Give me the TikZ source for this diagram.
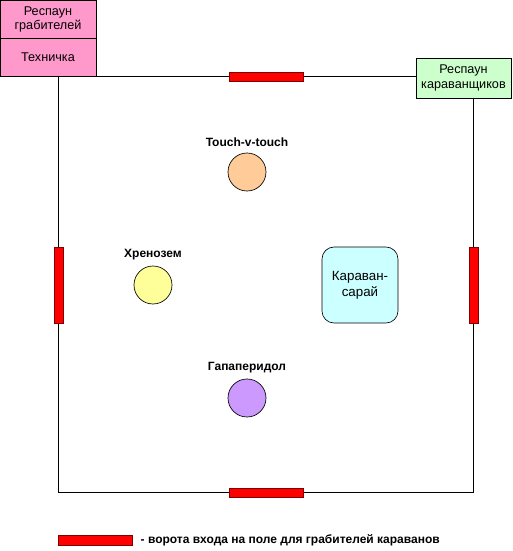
\documentclass[tikz,border=0pt]{standalone}
\usepackage{fontspec}
\setmainfont{Liberation Sans}
\usetikzlibrary{positioning}
\definecolor{respink}{RGB}{255,153,204}
\definecolor{resgreen}{RGB}{204,255,204}
\definecolor{peach}{RGB}{255,204,153}
\definecolor{lemon}{RGB}{255,255,153}
\definecolor{lilac}{RGB}{204,153,255}
\definecolor{aqua}{RGB}{204,255,255}
\definecolor{gatered}{RGB}{255,0,0}
\definecolor{gateedge}{RGB}{128,0,0}

\begin{document}
\begin{tikzpicture}[
  x=0.75pt, y=-0.75pt,
  every node/.style={font=\fontsize{9.5}{11}\selectfont},
  spawn/.style={draw=black, line width=0.5pt, align=center, inner sep=0pt},
  gate/.style={draw=gateedge, fill=gatered, line width=0.5pt, inner sep=0pt},
  spot/.style={circle, draw=black, line width=0.5pt, minimum size=28.5pt, inner sep=0pt},
  tag/.style={font=\fontsize{9}{10}\selectfont\bfseries},
  field/.style={black, line width=0.6pt}
]
\useasboundingbox (0,0) rectangle (513,551);

% The playing field.
\coordinate (fa) at (58,76);
\coordinate (fb) at (473,492);
\draw[field] (fa) rectangle (fb);

% Spawn boxes.
\node[spawn, fill=respink, minimum width=72pt, minimum height=29.25pt]
  (robspawn) at (48,19.5) {Респаун\\грабителей};
\node[spawn, fill=respink, minimum width=72pt, minimum height=28.5pt]
  (techbox) at (48,57.5) {Техничка};
\node[spawn, fill=resgreen, minimum width=71.25pt, minimum height=30pt]
  (carspawn) at (463.5,78) {Респаун\\караванщиков};

% Entry gates.
\node[gate, minimum width=55.5pt, minimum height=6.75pt] (gtop) at (266,76.5) {};
\node[gate, minimum width=55.5pt, minimum height=6.75pt] (gbot) at (266,492.5) {};
\node[gate, minimum width=6.75pt, minimum height=57pt] (gleft) at (58.5,285) {};
\node[gate, minimum width=6.75pt, minimum height=57pt] (gright) at (473.5,285) {};

% Points on the field.
\node[spot, fill=peach] (touch) at (247,172) {};
\node[tag, above=1pt of touch] (touchtag) {Touch-v-touch};
\node[spot, fill=lemon] (hren) at (153,285) {};
\node[tag, above=1pt of hren] (hrentag) {Хренозем};
\node[spot, fill=lilac] (gapa) at (247,398) {};
\node[tag, above=1pt of gapa] (gapatag) {Гапаперидол};
\node[draw=black, fill=aqua, line width=0.5pt, rounded corners=9pt,
  minimum size=57pt, align=center, inner sep=0pt,
  font=\fontsize{10}{12}\selectfont] (saray) at (360,285)
  {Караван-\\сарай};

% Legend.
\node[gate, minimum width=55.5pt, minimum height=7.5pt] (lgate) at (95,540) {};
\node[tag, anchor=west] (ltext) at (136,540)
  {- ворота входа на поле для грабителей караванов};
\end{tikzpicture}
\end{document}
